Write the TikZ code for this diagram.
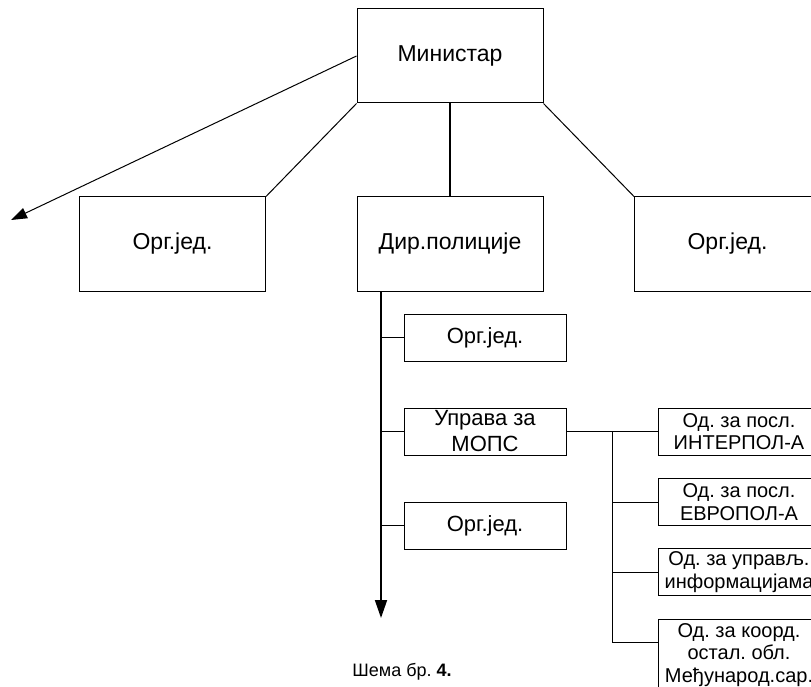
\documentclass[tikz,border=0pt]{standalone}
\usepackage{fontspec}
\setmainfont{Liberation Sans}
\usetikzlibrary{arrows.meta}
\frenchspacing

\tikzset{
    unitbox/.style={draw, line width=1pt, minimum width=186pt, minimum height=94pt, font=\fontsize{23}{27}\selectfont},
    subbox/.style={draw, line width=1pt, minimum width=162pt, minimum height=47pt, inner sep=0pt, align=center, font=\fontsize{22}{26}\selectfont},
    odbox/.style={subbox, font=\fontsize{20}{22.5}\selectfont},
    link/.style={line width=1pt},
    trunk/.style={line width=1.8pt}
}

\begin{document}
\begin{tikzpicture}[x=1pt, y=-1pt]
        % Fix the page size
        \clip (0,0) rectangle (811,687);
        \useasboundingbox (0,0) rectangle (811,687);

        % Top of the scheme
        \node[unitbox] (min) at (450,56) {Министар};

        % Second level
        \node[unitbox] (org1) at (172.5,244) {Орг.јед.};
        \node[unitbox] (dir) at (450,244) {Дир.полиције};
        \node[unitbox] (org2) at (727.5,244) {Орг.јед.};

        % Units under the police directorate
        \node[subbox] (sub1) at (485,337.5) {Орг.јед.};
        \node[subbox] (mops) at (485,431.5) {Управа за\\МОПС};
        \node[subbox] (sub2) at (485,525.5) {Орг.јед.};

        % Sections of the MOPS directorate
        \node[odbox] (od1) at (739,431.5) {Од. за посл.\\ИНТЕРПОЛ-А};
        \node[odbox] (od2) at (739,502) {Од. за посл.\\ЕВРОПОЛ-А};
        \node[odbox] (od3) at (739,572) {Од. за управљ.\\информацијама};
        \node[odbox, minimum height=72pt] (od4) at (739,655) {Од. за коорд.\\остал. обл.\\Међународ.сар.};

        % Caption
        \node[font=\fontsize{18}{20}\selectfont] (cap) at (402,672) {Шема бр. \textbf{4.}};

        % Free ends
        \coordinate (out) at (11,220);
        \coordinate (spine) at (381,618);
        \coordinate (bus) at (612,642);

        % Lines from the minister
        \draw[link, -{Triangle[length=16pt, width=11pt]}] (min.west) -- (out);
        \draw[link] (min.south west) -- (org1.north east);
        \draw[trunk] (min.south) -- (dir.north);
        \draw[link] (min.south east) -- (org2.north west);

        % Main line down from the directorate
        \draw[trunk, -{Triangle[length=18pt, width=12pt]}] (dir.south -| spine) -- (spine);
        \draw[link] (sub1.west -| spine) -- (sub1.west);
        \draw[link] (mops.west -| spine) -- (mops.west);
        \draw[link] (sub2.west -| spine) -- (sub2.west);

        % Branch to the sections
        \draw[link] (mops.east) -- (od1.west);
        \draw[link] (mops.east -| bus) -- (bus);
        \draw[link] (od2.west -| bus) -- (od2.west);
        \draw[link] (od3.west -| bus) -- (od3.west);
        \draw[link] (bus) -- (bus -| od4.west);
\end{tikzpicture}
\end{document}
